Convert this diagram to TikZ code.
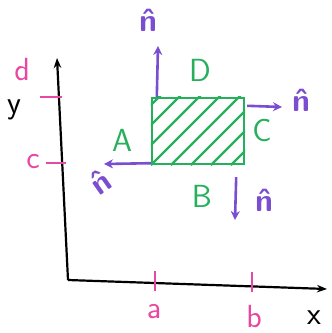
\documentclass[tikz,border=0pt]{standalone}
\usetikzlibrary{arrows.meta,positioning}
\definecolor{sketchpink}{RGB}{232,72,162}
\definecolor{sketchgreen}{RGB}{38,176,92}
\definecolor{sketchpurple}{RGB}{122,78,208}
\begin{document}
\begin{tikzpicture}[x=1pt,y=-1pt]
        % Style definitions
        \tikzset{
            axis/.style={black, line width=2.2pt},
            tickmark/.style={sketchpink, line width=2.4pt},
            region/.style={draw=sketchgreen, line width=2.4pt, minimum width=92pt, minimum height=66pt, inner sep=0pt},
            hatch/.style={sketchgreen, line width=2.2pt},
            normal/.style={sketchpurple, line width=2.6pt, -{Stealth[length=9pt,width=9pt]}},
            lbl/.style={font=\sffamily\fontsize{32}{34}\selectfont, inner sep=0pt},
            nlbl/.style={sketchpurple, font=\sffamily\bfseries\fontsize{32}{34}\selectfont, inner sep=0pt}
        }
        \useasboundingbox (0,0) rectangle (332,333);

        % ==========================================
        % AXES
        % ==========================================
        \coordinate (origin) at (68,280);
        \coordinate (ytop) at (57,58);
        \coordinate (xend) at (327,289);
        \draw[axis, -{Stealth[length=10pt]}] (origin) -- (ytop);
        \draw[axis, -{Stealth[length=10pt]}] (origin) -- (xend);
        \node[lbl] (xlabel) at (314,318) {x};
        \node[lbl] (ylabel) at (14,110) {y};

        % Ticks and limits
        \draw[tickmark] (40,97) -- (62,97);
        \draw[tickmark] (46,163) -- (66,163);
        \draw[tickmark] (155,271) -- (155,291);
        \draw[tickmark] (252,272) -- (252,292);
        \node[lbl, sketchpink] (dlabel) at (22,70) {d};
        \node[lbl, sketchpink] (clabel) at (33,162) {c};
        \node[lbl, sketchpink] (alabel) at (154,312) {a};
        \node[lbl, sketchpink] (blabel) at (254,317) {b};

        % ==========================================
        % REGION
        % ==========================================
        \node[region] (box) at (198,131) {};
        \begin{scope}
            \clip (box.south west) rectangle (box.north east);
            \foreach \s in {0,...,7}
                \draw[hatch] ([xshift=\s*20-60]box.south west) -- ++(80,-80);
        \end{scope}
        \node[lbl, sketchgreen] (sideD) at (200,70) {D};
        \node[lbl, sketchgreen] (sideC) at (262,131) {C};
        \node[lbl, sketchgreen] (sideB) at (202,196) {B};
        \node[lbl, sketchgreen] (sideA) at (122,140) {A};

        % Outward normals
        \coordinate (topstart) at ([xshift=6]box.north west);
        \coordinate (topend) at (158,46);
        \coordinate (rightstart) at ([xshift=2,yshift=-9]box.north east);
        \coordinate (rightend) at (282,107);
        \coordinate (leftstart) at ([yshift=2]box.south west);
        \coordinate (leftend) at (104,164);
        \coordinate (botstart) at ([xshift=-9,yshift=-12]box.south east);
        \coordinate (botend) at (235,220);
        \draw[normal] (topstart) -- (topend);
        \draw[normal] (rightstart) -- (rightend);
        \draw[normal] (leftstart) -- (leftend);
        \draw[normal] (botstart) -- (botend);
        \node[nlbl] (ntop) at (148,20) {\^{n}};
        \node[nlbl] (nright) at (301,100) {\^{n}};
        \node[nlbl, rotate=35] (nleft) at (100,182) {\^{n}};
        \node[nlbl] (nbot) at (264,200) {\^{n}};
\end{tikzpicture}
\end{document}
